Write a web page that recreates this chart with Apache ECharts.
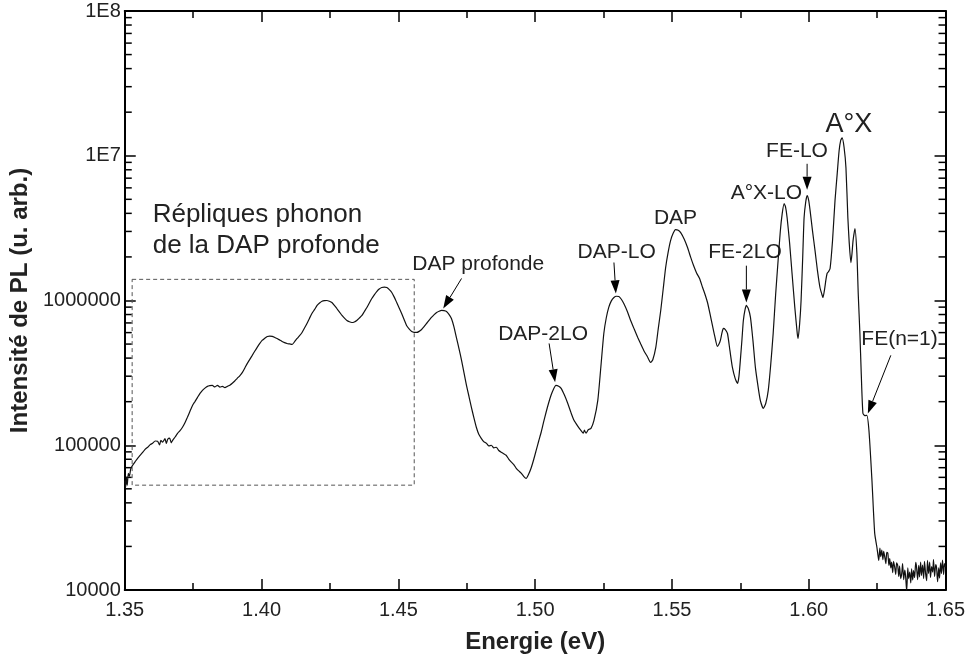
<!DOCTYPE html>
<html>
<head>
<meta charset="utf-8">
<script src="https://cdn.jsdelivr.net/npm/echarts@6/dist/echarts.min.js"></script>
<style>
html, body { margin: 0; padding: 0; background: #fff; }
#main { width: 968px; height: 663px; }
</style>
</head>
<body>
<div id="main"></div>
<script>
// PL spectrum
const energy = [
    1.3500, 1.3503, 1.3506, 1.3509, 1.3513, 1.3517, 1.3522, 1.3529, 1.3538, 1.3547,
    1.3556, 1.3566, 1.3575, 1.3584, 1.3593, 1.3602, 1.3611, 1.3620, 1.3627, 1.3632,
    1.3638, 1.3647, 1.3652, 1.3657, 1.3664, 1.3670, 1.3675, 1.3684, 1.3693, 1.3702,
    1.3711, 1.3720, 1.3729, 1.3738, 1.3748, 1.3757, 1.3766, 1.3775, 1.3784, 1.3793,
    1.3802, 1.3811, 1.3820, 1.3829, 1.3839, 1.3848, 1.3857, 1.3866, 1.3875, 1.3884,
    1.3893, 1.3902, 1.3911, 1.3921, 1.3930, 1.3939, 1.3948, 1.3957, 1.3966, 1.3975,
    1.3984, 1.3993, 1.4002, 1.4012, 1.4021, 1.4030, 1.4039, 1.4048, 1.4057, 1.4066,
    1.4075, 1.4084, 1.4093, 1.4103, 1.4112, 1.4121, 1.4130, 1.4139, 1.4148, 1.4157,
    1.4166, 1.4175, 1.4184, 1.4194, 1.4203, 1.4212, 1.4221, 1.4230, 1.4239, 1.4248,
    1.4257, 1.4266, 1.4275, 1.4285, 1.4294, 1.4303, 1.4312, 1.4321, 1.4330, 1.4339,
    1.4348, 1.4357, 1.4367, 1.4376, 1.4385, 1.4394, 1.4403, 1.4412, 1.4421, 1.4430,
    1.4439, 1.4449, 1.4458, 1.4467, 1.4476, 1.4485, 1.4494, 1.4503, 1.4512, 1.4521,
    1.4530, 1.4540, 1.4549, 1.4558, 1.4567, 1.4576, 1.4585, 1.4594, 1.4603, 1.4612,
    1.4621, 1.4630, 1.4640, 1.4649, 1.4658, 1.4667, 1.4676, 1.4685, 1.4694, 1.4703,
    1.4712, 1.4722, 1.4731, 1.4740, 1.4749, 1.4758, 1.4767, 1.4776, 1.4785, 1.4794,
    1.4803, 1.4812, 1.4822, 1.4831, 1.4840, 1.4849, 1.4858, 1.4867, 1.4876, 1.4885,
    1.4894, 1.4904, 1.4913, 1.4922, 1.4931, 1.4940, 1.4949, 1.4958, 1.4967, 1.4976,
    1.4985, 1.4995, 1.5004, 1.5013, 1.5022, 1.5031, 1.5040, 1.5049, 1.5058, 1.5067,
    1.5076, 1.5086, 1.5095, 1.5107, 1.5119, 1.5131, 1.5142, 1.5155, 1.5167, 1.5176,
    1.5180, 1.5186, 1.5194, 1.5204, 1.5215, 1.5229, 1.5240, 1.5251, 1.5260, 1.5269,
    1.5278, 1.5288, 1.5297, 1.5306, 1.5315, 1.5324, 1.5337, 1.5349, 1.5362, 1.5375,
    1.5386, 1.5397, 1.5410, 1.5422, 1.5430, 1.5441, 1.5450, 1.5459, 1.5468, 1.5477,
    1.5486, 1.5495, 1.5504, 1.5513, 1.5523, 1.5532, 1.5545, 1.5557, 1.5568, 1.5579,
    1.5590, 1.5601, 1.5612, 1.5621, 1.5630, 1.5639, 1.5648, 1.5657, 1.5666, 1.5672,
    1.5677, 1.5683, 1.5688, 1.5695, 1.5703, 1.5712, 1.5721, 1.5731, 1.5740, 1.5745,
    1.5750, 1.5756, 1.5761, 1.5767, 1.5772, 1.5779, 1.5787, 1.5796, 1.5805, 1.5814,
    1.5823, 1.5834, 1.5843, 1.5852, 1.5861, 1.5870, 1.5879, 1.5888, 1.5896, 1.5903,
    1.5910, 1.5915, 1.5921, 1.5930, 1.5939, 1.5949, 1.5958, 1.5961, 1.5967, 1.5972,
    1.5978, 1.5983, 1.5989, 1.5994, 1.6000, 1.6005, 1.6014, 1.6023, 1.6032, 1.6041,
    1.6047, 1.6052, 1.6058, 1.6063, 1.6067, 1.6072, 1.6078, 1.6087, 1.6096, 1.6104,
    1.6111, 1.6117, 1.6122, 1.6129, 1.6136, 1.6143, 1.6148, 1.6154, 1.6158, 1.6162,
    1.6169, 1.6176, 1.6181, 1.6187, 1.6192, 1.6198, 1.6205, 1.6212, 1.6220, 1.6231,
    1.6241, 1.6249, 1.6252, 1.6256, 1.6260, 1.6263, 1.6267, 1.6271, 1.6274, 1.6278,
    1.6282, 1.6285, 1.6289, 1.6293, 1.6296, 1.6300, 1.6303, 1.6307, 1.6310, 1.6314,
    1.6318, 1.6321, 1.6325, 1.6329, 1.6332, 1.6336, 1.6340, 1.6343, 1.6347, 1.6351,
    1.6354, 1.6358, 1.6362, 1.6365, 1.6369, 1.6373, 1.6376, 1.6380, 1.6383, 1.6387,
    1.6391, 1.6394, 1.6398, 1.6402, 1.6405, 1.6409, 1.6412, 1.6416, 1.6420, 1.6423,
    1.6427, 1.6431, 1.6434, 1.6438, 1.6442, 1.6445, 1.6449, 1.6453, 1.6456, 1.6460,
    1.6464, 1.6467, 1.6471, 1.6475, 1.6478, 1.6482, 1.6485, 1.6489, 1.6493, 1.6496,
    1.6500
];
const intensity = [
    57000, 51000, 60000, 53000, 64000, 61000, 69000, 72800, 77000, 81300,
    85000, 89500, 94000, 96900, 101000, 103200, 107000, 106700, 100500, 108000,
    104900, 111000, 103000, 110000, 112000, 104000, 108200, 114000, 120900, 126000,
    133100, 143000, 156000, 171000, 188800, 201000, 214300, 228000, 239400, 248000,
    255100, 258000, 259200, 253000, 259200, 252000, 255100, 250000, 255100, 260000,
    267900, 278000, 289900, 303000, 318700, 342000, 367900, 392000, 417800, 446000,
    474500, 503000, 529700, 549000, 564500, 568000, 564500, 556000, 546800, 534000,
    521300, 512000, 504700, 501000, 497500, 520000, 546800, 572000, 601400, 645000,
    693600, 752000, 812400, 868000, 924100, 960000, 988600, 998000, 1000000, 988000,
    968600, 925000, 880600, 832000, 788400, 755000, 728000, 713000, 704700, 711000,
    728000, 755000, 788400, 840000, 895400, 962000, 1032000, 1095000, 1153000, 1200000,
    1230000, 1238000, 1230000, 1190000, 1136000, 1055000, 968600, 888000, 812400, 738000,
    672400, 635000, 611600, 603000, 601400, 612000, 630900, 660000, 693600, 728000,
    763700, 796000, 826000, 843000, 853500, 851000, 839700, 803000, 751700, 660000,
    555900, 462000, 385700, 316000, 259200, 218000, 182900, 155000, 133100, 119000,
    111700, 106000, 103200, 99000, 100000, 96000, 96900, 92000, 89500, 87500,
    85300, 80000, 76400, 73500, 69300, 66500, 64100, 61000, 59000, 63000,
    69300, 80000, 92500, 107000, 123000, 145000, 169000, 195000, 221300, 244000,
    259200, 256000, 247200, 222000, 194800, 168000, 148600, 136000, 126800, 121000,
    127000, 121000, 128000, 130900, 148600, 204200, 344800, 591600, 760000, 895400,
    990000, 1049000, 1070000, 1067000, 1020000, 953400, 840000, 728000, 635000, 555900,
    500000, 452000, 410000, 373300, 390000, 474500, 640000, 853500, 1200000, 1690000,
    2150000, 2594000, 2900000, 3090000, 3060000, 2944000, 2650000, 2321000, 2000000, 1743000,
    1550000, 1420000, 1230000, 1100000, 968600, 810000, 672400, 560000, 482300, 500000,
    529700, 600000, 641200, 630000, 591600, 450000, 344800, 290000, 267900, 300000,
    385700, 540000, 728000, 860000, 924100, 880000, 763700, 530000, 344800, 260000,
    204200, 179900, 195000, 239400, 360000, 591600, 1100000, 1888000, 3000000, 3981000,
    4667000, 4450000, 3733000, 2500000, 1536000, 900000, 591600, 546800, 700000, 1000000,
    2000000, 3733000, 4800000, 5297000, 4900000, 4180000, 3000000, 2213000, 1600000, 1230000,
    1120000, 1049000, 1200000, 1400000, 1536000, 1580000, 1663000, 2600000, 4898000, 7500000,
    10820000, 12800000, 13300000, 11500000, 8260000, 3733000, 2500000, 1828000, 2100000, 2594000,
    3141000, 2109000, 1100000, 591600, 310000, 166300, 160000, 161100, 126800, 57350,
    24720, 19810, 17990, 16000, 19500, 17000, 18880, 16200, 18500, 16890,
    15200, 18200, 17990, 14800, 16500, 14200, 15600, 13200, 15800, 14420,
    12800, 15400, 14860, 12400, 14600, 12000, 13090, 15200, 11800, 13740,
    12500, 9800, 14200, 12000, 13310, 11200, 14000, 11720, 13600, 12200,
    15500, 14420, 11800, 14800, 12300, 15600, 12600, 14860, 12000, 15800,
    13090, 11600, 16000, 13000, 15600, 12200, 14500, 13310, 16200, 12400,
    15000, 14420, 11400, 14200, 12100, 15400, 13000, 16110, 12800, 15200,
    14420
];

// axis ticks and labels
const xTickLabels = ['1.35', '1.40', '1.45', '1.50', '1.55', '1.60', '1.65'];
const yTickValues = [10000, 100000, 1000000, 10000000, 100000000];
const yTickLabels = ['10000', '100000', '1000000', '1E7', '1E8'];

// peak annotations
const peakNames = ['DAP profonde', 'DAP-2LO', 'DAP-LO', 'DAP', 'FE-2LO', 'A°X-LO', 'FE-LO', 'A°X', 'FE(n=1)'];
const boxTitle = ['Répliques phonon', 'de la DAP profonde'];

// where each annotation sits, in data units (energy, intensity)
const placement = {
    'DAP profonde': { at: [1.4792, 1.77e6], arrow: [[1.4731, 1.42e6], [1.4664, 8.8e5]] },
    'DAP-2LO': { at: [1.5029, 5.83e5], arrow: [[1.5051, 5.05e5], [1.5073, 2.72e5]] },
    'DAP-LO': { at: [1.5298, 2.14e6], arrow: [[1.5288, 1.83e6], [1.5295, 1.12e6]] },
    'DAP': { at: [1.5513, 3.68e6] },
    'FE-2LO': { at: [1.5767, 2.14e6], arrow: [[1.5772, 1.74e6], [1.5772, 9.7e5]] },
    'A°X-LO': { at: [1.5845, 5.47e6] },
    'FE-LO': { at: [1.5957, 1.08e7], arrow: [[1.5994, 8.8e6], [1.5994, 5.83e6]] },
    'A°X': { at: [1.6147, 1.64e7], size: 27 },
    'FE(n=1)': { at: [1.6332, 5.38e5], arrow: [[1.6300, 4.18e5], [1.6216, 1.66e5]] }
};

const FONT = '"Liberation Sans", Arial, sans-serif';

let chart = echarts.init(document.getElementById('main'));

function tickAxis(pos, showLabel) {
    return {
        type: 'value',
        position: pos,
        min: 1.35,
        max: 1.65,
        interval: 0.05,
        axisLine: { show: true, onZero: false, lineStyle: { color: '#000', width: 2 } },
        axisTick: { show: true, inside: true, length: 11, lineStyle: { color: '#000', width: 1.5 } },
        minorTick: { show: true, splitNumber: 2, length: 7, lineStyle: { color: '#000', width: 1.5 } },
        splitLine: { show: false },
        axisLabel: {
            show: showLabel,
            formatter: v => xTickLabels[Math.round((v - 1.35) / 0.05)],
            fontFamily: FONT,
            fontSize: 20,
            color: '#222',
            margin: 10
        }
    };
}

function logAxis(pos, showLabel) {
    return {
        type: 'log',
        logBase: 10,
        position: pos,
        min: 10000,
        max: 100000000,
        splitNumber: 4,
        axisLine: { show: true, onZero: false, lineStyle: { color: '#000', width: 2 } },
        axisTick: { show: true, inside: true, length: 11, lineStyle: { color: '#000', width: 1.5 } },
        splitLine: { show: false },
        axisLabel: {
            show: showLabel,
            formatter: v => {
                const i = yTickValues.findIndex(t => Math.abs(Math.log10(t) - Math.log10(v)) < 0.01);
                return i >= 0 ? yTickLabels[i] : '';
            },
            fontFamily: FONT,
            fontSize: 20,
            color: '#222',
            margin: 4
        }
    };
}

const xBottom = tickAxis('bottom', true);
xBottom.name = 'Energie (eV)';
xBottom.nameLocation = 'middle';
xBottom.nameGap = 40;
xBottom.nameTextStyle = { fontFamily: FONT, fontSize: 24, fontWeight: 'bold', color: '#222' };

const yLeft = logAxis('left', true);
yLeft.name = 'Intensité de PL (u. arb.)';
yLeft.nameLocation = 'middle';
yLeft.nameGap = 89;
yLeft.nameTextStyle = { fontFamily: FONT, fontSize: 24, fontWeight: 'bold', color: '#222' };

const option = {
    backgroundColor: '#fff',
    animation: false,
    grid: { left: 122, right: 22, top: 11, bottom: 73 },
    xAxis: [xBottom, tickAxis('top', false)],
    yAxis: [yLeft, logAxis('right', false)],
    series: [
        {
            type: 'line',
            xAxisIndex: 0,
            yAxisIndex: 0,
            data: energy.map((e, i) => [e, intensity[i]]),
            showSymbol: false,
            smooth: 0.2,
            lineStyle: { color: '#111', width: 1.2 },
            clip: true,
            markArea: {
                silent: true,
                itemStyle: { color: 'rgba(0,0,0,0)', borderColor: '#555', borderWidth: 1, borderType: [4, 3] },
                data: [[{ coord: [1.3527, 1.40e6] }, { coord: [1.4558, 53000] }]]
            }
        }
    ]
};
chart.setOption(option);

// log minor ticks, arrows and labels are drawn on top, placed through the axes
function toPx(x, y) {
    return chart.convertToPixel({ seriesIndex: 0 }, [x, y]);
}

const graphics = [];
const leftX = toPx(1.35, 1e5)[0];
const rightX = toPx(1.65, 1e5)[0];
for (let n = 4; n < 8; n++) {
    for (let k = 2; k <= 9; k++) {
        const y = toPx(1.4, k * Math.pow(10, n))[1];
        graphics.push({ type: 'line', silent: true, shape: { x1: leftX, y1: y, x2: leftX + 7, y2: y }, style: { stroke: '#000', lineWidth: 1.5 } });
        graphics.push({ type: 'line', silent: true, shape: { x1: rightX - 7, y1: y, x2: rightX, y2: y }, style: { stroke: '#000', lineWidth: 1.5 } });
    }
}

peakNames.forEach(name => {
    const p = placement[name];
    const c = toPx(p.at[0], p.at[1]);
    graphics.push({
        type: 'text',
        x: c[0],
        y: c[1],
        silent: true,
        style: {
            text: name,
            fontFamily: FONT,
            fontSize: p.size || 21,
            fill: '#222',
            align: 'center',
            verticalAlign: 'middle'
        }
    });
    if (p.arrow) {
        const a = toPx(p.arrow[0][0], p.arrow[0][1]);
        const b = toPx(p.arrow[1][0], p.arrow[1][1]);
        const dx = b[0] - a[0], dy = b[1] - a[1];
        const len = Math.sqrt(dx * dx + dy * dy);
        const ux = dx / len, uy = dy / len;
        const headL = 13, headW = 4.5;
        const bx = b[0] - ux * headL, by = b[1] - uy * headL;
        graphics.push({ type: 'line', silent: true, shape: { x1: a[0], y1: a[1], x2: bx, y2: by }, style: { stroke: '#000', lineWidth: 1 } });
        graphics.push({
            type: 'polygon',
            silent: true,
            shape: { points: [[b[0], b[1]], [bx - uy * headW, by + ux * headW], [bx + uy * headW, by - ux * headW]] },
            style: { fill: '#000' }
        });
    }
});

const boxAt = toPx(1.3602, 3.04e6);
graphics.push({
    type: 'text',
    x: boxAt[0],
    y: boxAt[1],
    silent: true,
    style: {
        text: boxTitle.join('\n'),
        fontFamily: FONT,
        fontSize: 26,
        lineHeight: 31,
        fill: '#222',
        align: 'left',
        verticalAlign: 'middle'
    }
});

chart.setOption({ graphic: graphics });

window.addEventListener('resize', function () {
    chart.resize();
});
</script>
</body>
</html>
